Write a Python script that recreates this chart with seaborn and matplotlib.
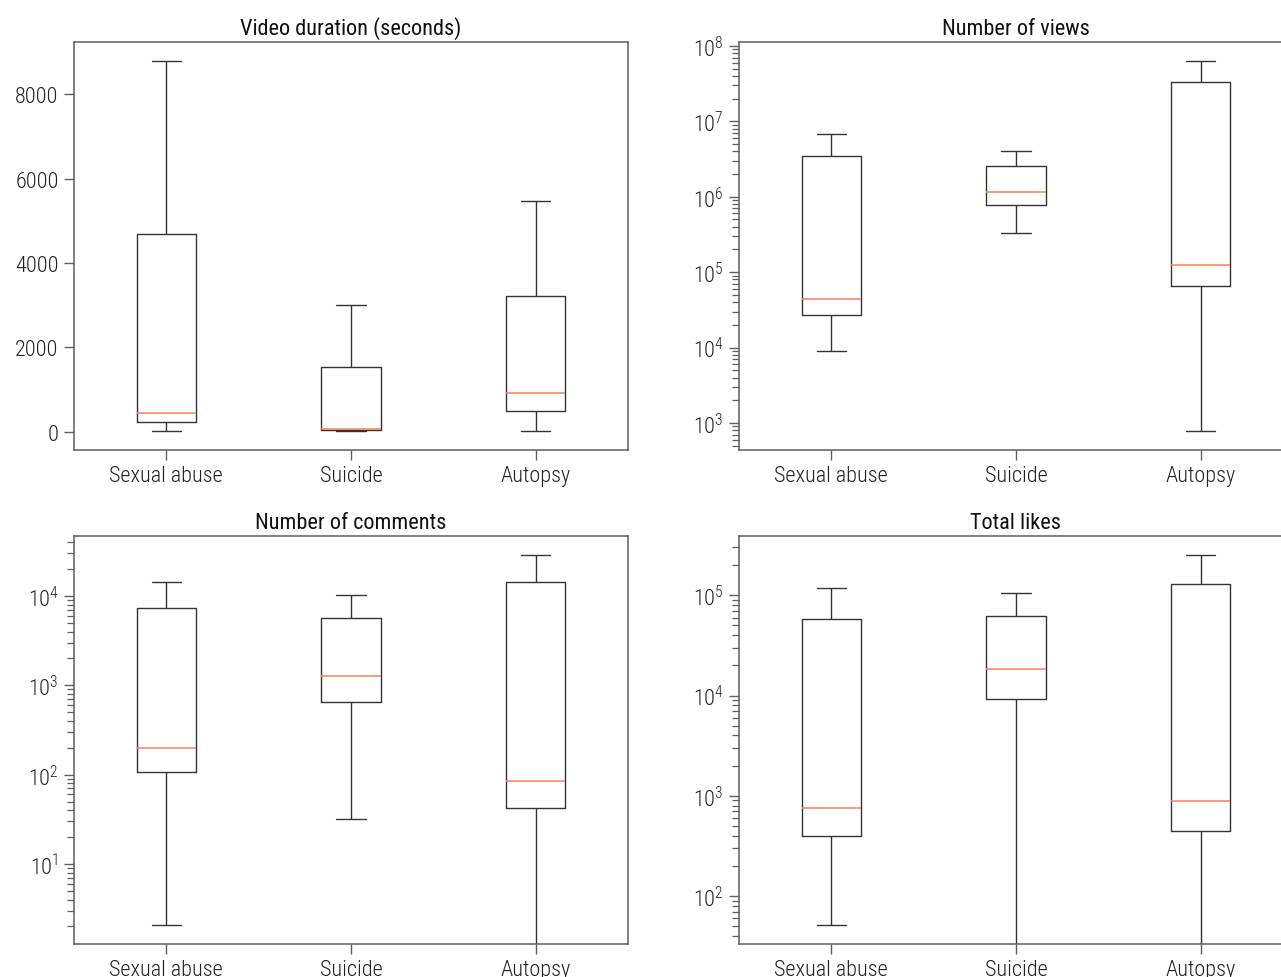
import numpy as np
import pandas as pd
import matplotlib
matplotlib.use("Agg")
import matplotlib.pyplot as plt
import seaborn as sns
from matplotlib import font_manager as fm

# ---------------- data (five-number summaries) ----------------
categories = ["Sexual abuse", "Suicide", "Autopsy"]
titles = ["Video duration (seconds)", "Number of views", "Number of comments", "Total likes"]

# order of each list: minimum, Q1, median, Q3, maximum
duration_sexual_abuse = [20, 230, 445, 4680, 8800]
duration_suicide = [5, 40, 62, 1535, 3000]
duration_autopsy = [10, 495, 925, 3215, 5480]

views_sexual_abuse = [8.9e3, 2.74e4, 4.45e4, 3.5e6, 6.7e6]
views_suicide = [3.35e5, 7.8e5, 1.16e6, 2.57e6, 4.05e6]
views_autopsy = [770, 6.5e4, 1.25e5, 3.3e7, 6.4e7]

comments_sexual_abuse = [2.05, 107, 201, 7400, 14500]
comments_suicide = [32, 655, 1260, 5700, 10200]
comments_autopsy = [0, 42, 84, 14500, 29100]

likes_sexual_abuse = [51, 395, 752, 58200, 118000]
likes_suicide = [0, 9200, 18300, 62400, 105000]
likes_autopsy = [0, 445, 885, 130000, 255000]

log_scaled = [False, True, True, True]

# ---------------- style ----------------
sns.set_style("ticks")

names = {f.name for f in fm.fontManager.ttflist}
family = None
stretch = "normal"
for cand in ["Roboto Condensed", "Barlow Condensed", "Liberation Sans Narrow",
             "Open Sans Condensed", "Noto Sans Condensed", "DejaVu Sans Condensed"]:
    if cand in names:
        family = cand
        break
if family is None:
    cond = [f for f in fm.fontManager.ttflist
            if str(f.stretch) in ("condensed", "semi-condensed", "extra-condensed", "75", "87.5")]
    if cond:
        family = cond[0].name
        stretch = "condensed"
    else:
        family = "Roboto"
plt.rcParams["font.family"] = [family, "DejaVu Sans"]
plt.rcParams["font.stretch"] = stretch
plt.rcParams["mathtext.fontset"] = "custom"
plt.rcParams["mathtext.rm"] = f"{family}:light"
plt.rcParams["mathtext.it"] = family
plt.rcParams["mathtext.bf"] = family

spine_col = "#5e5e5e"
line_col = "#333333"
median_col = "#f7805a"

fig = plt.figure(figsize=(12.81, 9.78), dpi=100)
W, H = 1281, 978
ax_w, ax_h = 554 / W, 408 / H
lefts = [74 / W, 739 / W]
bottoms = [1 - 451 / H, 1 - 945 / H]
axes = [
    fig.add_axes([lefts[0], bottoms[0], ax_w, ax_h]),
    fig.add_axes([lefts[1], bottoms[0], ax_w, ax_h]),
    fig.add_axes([lefts[0], bottoms[1], ax_w, ax_h]),
    fig.add_axes([lefts[1], bottoms[1], ax_w, ax_h]),
]

panels = [
    [duration_sexual_abuse, duration_suicide, duration_autopsy],
    [views_sexual_abuse, views_suicide, views_autopsy],
    [comments_sexual_abuse, comments_suicide, comments_autopsy],
    [likes_sexual_abuse, likes_suicide, likes_autopsy],
]

for ax, title, vals, is_log in zip(axes, titles, panels, log_scaled):
    df = pd.DataFrame({
        "category": np.repeat(categories, [len(v) for v in vals]),
        "value": np.concatenate([np.asarray(v, dtype=float) for v in vals]),
    })
    sns.boxplot(data=df, x="category", y="value", order=categories, ax=ax,
                width=0.32, whis=(0, 100), fill=False, color=line_col,
                linewidth=1.0, showfliers=False,
                medianprops=dict(color=median_col, linewidth=1.1))
    if is_log:
        ax.set_yscale("log")
    ax.set_xlabel("")
    ax.set_ylabel("")
    ax.set_title(title, fontsize=16, fontweight="normal", color="#111111", pad=6)
    for sp in ax.spines.values():
        sp.set_visible(True)
        sp.set_color(spine_col)
        sp.set_linewidth(1.1)
    ax.tick_params(axis="both", which="major", length=7, width=1.0, color=spine_col,
                   labelsize=16, labelcolor="#222222", pad=4)
    ax.tick_params(axis="y", which="minor", length=5, width=0.9, color=spine_col)
    ax.tick_params(axis="x", which="minor", length=0)
    for lab in ax.get_xticklabels() + ax.get_yticklabels():
        lab.set_fontweight("light")

fig.savefig("out.png", dpi=100)
